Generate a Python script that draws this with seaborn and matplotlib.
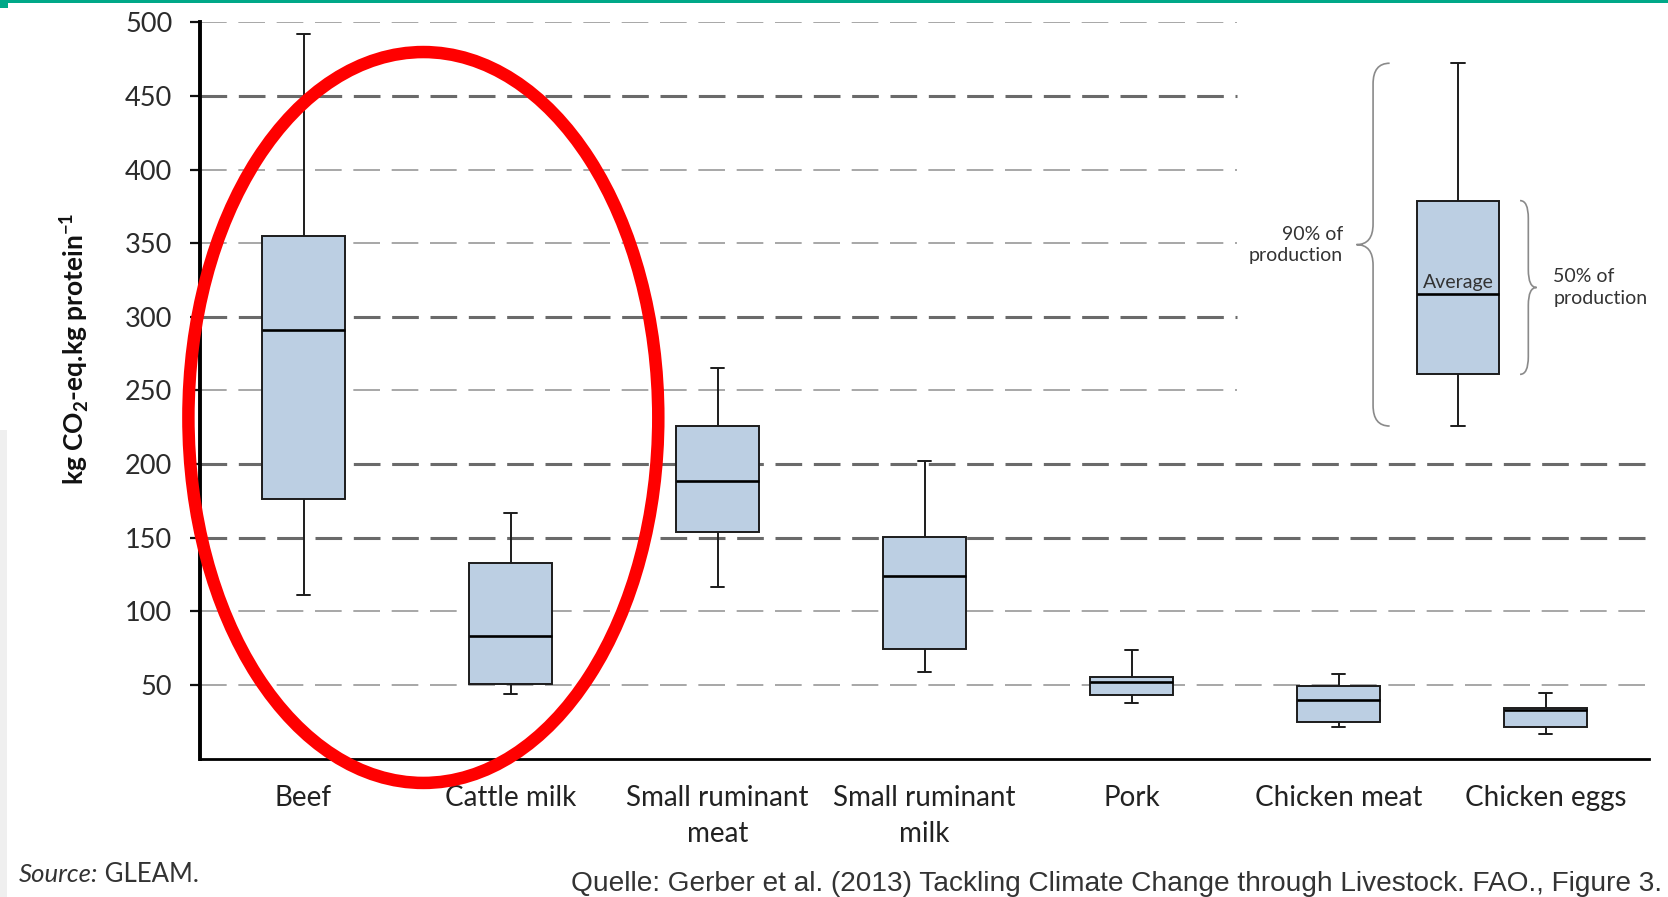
import numpy as np
import pandas as pd
import matplotlib
matplotlib.use("Agg")
import matplotlib.pyplot as plt
from matplotlib.patches import Ellipse, Rectangle, PathPatch
from matplotlib.path import Path
import seaborn as sns

# Emission intensity per commodity: whiskers span 90% of production,
# boxes span 50%, the inner line is the average.
categories = ["Beef", "Cattle milk", "Small ruminant\nmeat", "Small ruminant\nmilk",
              "Pork", "Chicken meat", "Chicken eggs"]
whisker_low = [111.0, 43.8, 116.3, 58.5, 37.7, 21.4, 16.6]
box_low = [176.2, 50.6, 153.6, 74.6, 43.1, 24.8, 21.2]
average = [291.2, 83.4, 188.5, 124.0, 52.2, 39.7, 32.9]
box_high = [354.6, 133.0, 225.8, 150.2, 55.1, 49.2, 34.1]
whisker_high = [491.9, 166.5, 265.0, 202.3, 73.7, 57.4, 44.7]

# Key box explaining how to read the chart
key_values = [225.8, 260.9, 315.3, 378.9, 472.2]

y_ticks = [50, 100, 150, 200, 250, 300, 350, 400, 450, 500]
y_label = r"kg CO$_\mathbf{2}$-eq.kg protein$^\mathbf{-1}$"
source_note = "Source:"
source_name = " GLEAM."
citation = "Quelle: Gerber et al. (2013) Tackling Climate Change through Livestock. FAO., Figure 3."

sns.set_style("white")
plt.rcParams["font.family"] = ["Lato", "DejaVu Sans"]
plt.rcParams["mathtext.fontset"] = "custom"
plt.rcParams["mathtext.rm"] = "Lato"
plt.rcParams["mathtext.bf"] = "Lato:bold"
plt.rcParams["lines.scale_dashes"] = False

W, H = 1668, 897
fig = plt.figure(figsize=(W / 100, H / 100), dpi=100)
fig.patch.set_facecolor("white")
ax = fig.add_axes([200 / W, 1 - 758.5 / H, 1449 / W, (758.5 - 22.3) / H])

positions = np.arange(len(categories))
rows = []
for p, stats in zip(positions, zip(whisker_low, box_low, average, box_high, whisker_high)):
    for v in stats:
        rows.append({"pos": float(p), "value": v})
df = pd.DataFrame(rows)

key_pos = 5.577
key_df = pd.DataFrame({"pos": [key_pos] * len(key_values), "value": key_values})

box_fill = "#bccfe3"
box_edge = "#1c1c1c"
common = dict(native_scale=True, whis=(0, 100), width=0.4, color=box_fill,
              saturation=1, linecolor=box_edge, linewidth=1.4, showfliers=False,
              medianprops=dict(color="black", linewidth=1.9), ax=ax)
sns.boxplot(data=df, x="pos", y="value", capwidths=[0.065] * len(categories), **common)
sns.boxplot(data=key_df, x="pos", y="value", capwidths=[0.065], **common)

# Dashed horizontal grid; the upper lines stop short of the key box
for v in y_ticks:
    heavy = v in (150, 200, 300, 450)
    xmax = 0.716 if v > 210 else 1.0
    ax.axhline(v, xmin=0, xmax=xmax, color="#6a6a6a" if heavy else "#8f8f8f",
               lw=2.2 if heavy else 1.1, linestyle=(0, (19.2, 8.4)), zorder=0.5)

ax.set_xlim(-0.5, len(categories) - 0.5)
ax.set_ylim(0, 500)
ax.set_yticks(y_ticks)
ax.set_yticklabels([str(t) for t in y_ticks], fontsize=19.5, color="#2b2b2b")
ax.set_xticks(positions)
ax.set_xticklabels(categories, fontsize=20, color="#222222", linespacing=1.5)
ax.set_xticks(np.arange(len(categories) + 1) - 0.5, minor=True)
ax.tick_params(axis="x", which="major", length=0, pad=19)
ax.tick_params(axis="x", which="minor", length=8, width=1.4, color="#222222", direction="out")
ax.tick_params(axis="y", length=7, width=1.6, color="#111111", direction="out", pad=13, left=True)
ax.set_xlabel("")
ax.set_ylabel("")
for side in ("top", "right"):
    ax.spines[side].set_visible(False)
ax.spines["left"].set_linewidth(2.8)
ax.spines["left"].set_color("black")
ax.spines["bottom"].set_linewidth(2.0)
ax.spines["bottom"].set_color("black")


def brace(x_end, x_tip, y_lo, y_hi, y_mid, r):
    x_mid = (x_end + x_tip) / 2
    verts = [(x_end, y_hi), (x_mid, y_hi), (x_mid, y_hi - r),
             (x_mid, y_mid + r),
             (x_mid, y_mid), (x_tip, y_mid),
             (x_mid, y_mid), (x_mid, y_mid - r),
             (x_mid, y_lo + r),
             (x_mid, y_lo), (x_end, y_lo)]
    codes = [Path.MOVETO, Path.CURVE3, Path.CURVE3,
             Path.LINETO,
             Path.CURVE3, Path.CURVE3,
             Path.CURVE3, Path.CURVE3,
             Path.LINETO,
             Path.CURVE3, Path.CURVE3]
    return PathPatch(Path(verts, codes), facecolor="none", edgecolor="#8a8a8a", lw=1.2, zorder=3)


k_lo, k_q1, k_med, k_q3, k_hi = key_values
ax.add_patch(brace(key_pos - 0.33, key_pos - 0.49, k_lo, k_hi, (k_lo + k_hi) / 2, 14))
ax.add_patch(brace(key_pos + 0.30, key_pos + 0.38, k_q1, k_q3, (k_q1 + k_q3) / 2, 12))
ax.text(key_pos - 0.555, (k_lo + k_hi) / 2, "90% of\nproduction", ha="right", va="center",
        fontsize=14, color="#333333", linespacing=1.3)
ax.text(key_pos + 0.46, (k_q1 + k_q3) / 2, "50% of\nproduction", ha="left", va="center",
        fontsize=14, color="#333333", linespacing=1.3)
ax.text(key_pos, k_med + 2.5, "Average", ha="center", va="bottom", fontsize=14, color="#333333")

# Highlight around the cattle products
ax.add_patch(Ellipse((0.579, 231.6), 2.27, 496.4, facecolor="none", edgecolor="#ff0000",
                     lw=9, clip_on=False, zorder=6))

fig.text(74.5 / W, 1 - 348.5 / H, y_label, rotation=90, ha="center", va="center",
         fontsize=19, fontweight="bold", color="#111111")

src = fig.text(19 / W, 1 - 882 / H, source_note, fontsize=18.5, style="italic",
               color="#333333", ha="left", va="baseline")
fig.canvas.draw()
bb = src.get_window_extent()
fig.text(bb.x1 / W, 1 - 882 / H, source_name, fontsize=18.5, color="#333333",
         ha="left", va="baseline")
fig.text(1662 / W, 1 - 891 / H, citation, fontsize=20.2, color="#333333", ha="right",
         va="baseline", family=["Liberation Sans", "DejaVu Sans"])

# Slide frame details
fig.add_artist(Rectangle((0, 1 - 3 / H), 1, 3 / H, transform=fig.transFigure,
                         color="#00a888", lw=0))
fig.add_artist(Rectangle((0, 1 - 8 / H), 8 / W, 8 / H, transform=fig.transFigure,
                         color="#00a888", lw=0))
fig.add_artist(Rectangle((0, 0), 7 / W, 1 - 430 / H, transform=fig.transFigure,
                         color="#efefef", lw=0))

fig.savefig("out.png", dpi=100)
